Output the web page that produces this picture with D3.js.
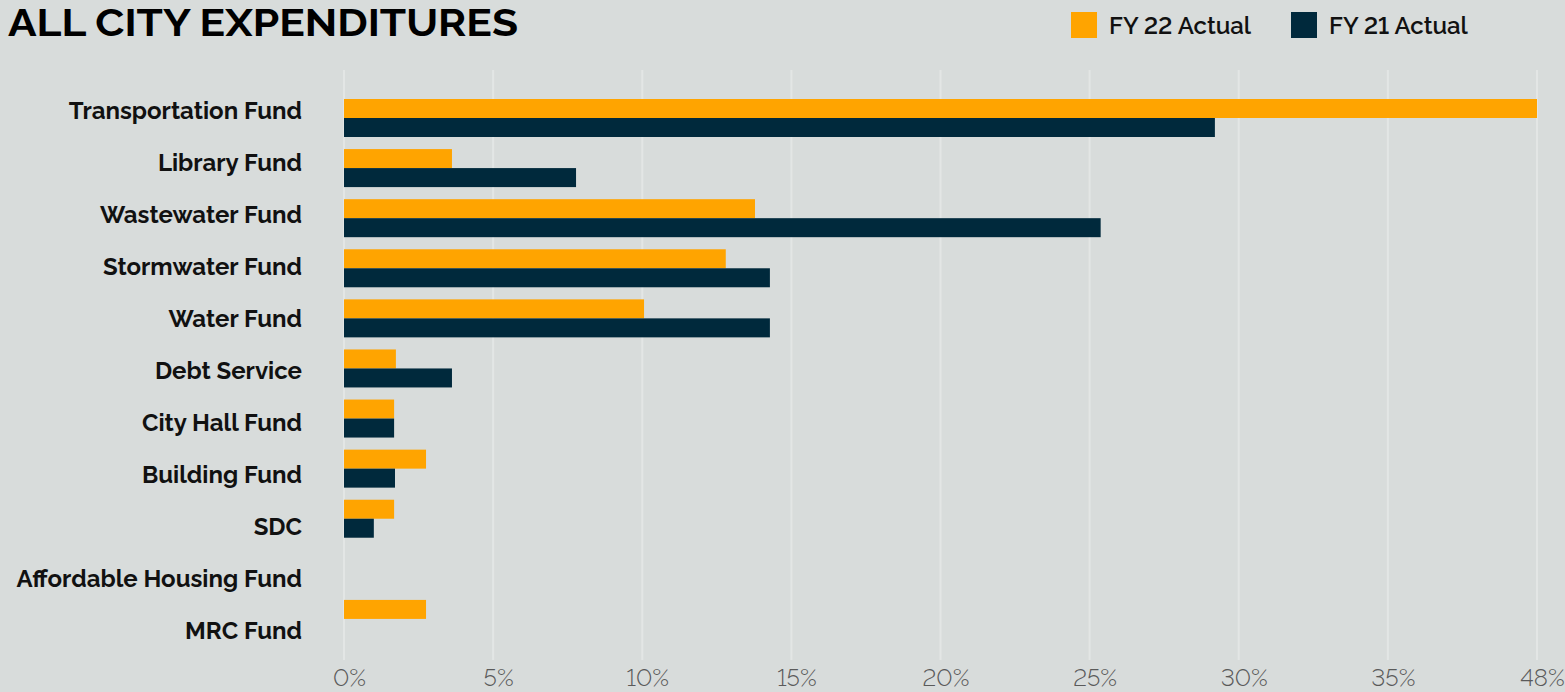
<!DOCTYPE html>
<html>
<head>
<meta charset="utf-8">
<script src="https://cdn.jsdelivr.net/npm/d3@7"></script>
<style>
  html, body { margin: 0; padding: 0; background: #D8DCDB; }
  svg { display: block; }
  text { font-variant-numeric: lining-nums; font-feature-settings: "lnum" 1; }
</style>
</head>
<body>
<svg id="chart" width="1565" height="692"></svg>
<script>
// Fund categories, top to bottom
const categories = [
  "Transportation Fund", "Library Fund", "Wastewater Fund", "Stormwater Fund",
  "Water Fund", "Debt Service", "City Hall Fund", "Building Fund", "SDC",
  "Affordable Housing Fund", "MRC Fund"
];
// Share of all city expenditures, percent
const fy22Actual = [40, 3.62, 13.78, 12.8, 10.06, 1.74, 1.68, 2.75, 1.68, 0, 2.75];
const fy21Actual = [29.2, 7.78, 25.37, 14.28, 14.28, 3.62, 1.68, 1.71, 1.0, 0, 0];
const seriesNames = ["FY 22 Actual", "FY 21 Actual"];
const tickValues = [0, 5, 10, 15, 20, 25, 30, 35, 40];
const tickLabels = ["0%", "5%", "10%", "15%", "20%", "25%", "30%", "35%", "48%"];

const colors = { "FY 22 Actual": "#FFA400", "FY 21 Actual": "#00293C" };
const font = "Raleway, Lato, 'Open Sans', sans-serif";

const svg = d3.select("#chart");

const x = d3.scaleLinear().domain([0, 40]).range([344, 1537]);
const yLabel = d3.scaleBand().domain(categories).range([85, 657]);
const yGroup = d3.scaleBand().domain(categories).range([99, 650]);
const ySeries = d3.scaleBand().domain(seriesNames).range([0, 38]);

// Vertical grid lines
svg.append("g")
  .selectAll("line")
  .data(tickValues)
  .join("line")
  .attr("x1", d => x(d)).attr("x2", d => x(d))
  .attr("y1", 70).attr("y2", 660)
  .attr("stroke", "#E3E6E5")
  .attr("stroke-width", 2);

// Bars
const rows = categories.map((c, i) => ({ c, vals: [fy22Actual[i], fy21Actual[i]] }));
const groups = svg.append("g").selectAll("g")
  .data(rows)
  .join("g")
  .attr("transform", d => `translate(0,${yGroup(d.c)})`);

groups.selectAll("rect")
  .data(d => d.vals.map((v, j) => ({ s: seriesNames[j], v })).filter(e => e.v > 0))
  .join("rect")
  .attr("x", x(0))
  .attr("y", d => ySeries(d.s))
  .attr("width", d => x(d.v) - x(0))
  .attr("height", ySeries.bandwidth())
  .attr("fill", d => colors[d.s]);

// Category axis labels
const yAxis = d3.axisLeft(yLabel).tickSize(0).tickPadding(0);
const yg = svg.append("g").attr("transform", "translate(302,0)").call(yAxis);
yg.select(".domain").remove();
yg.selectAll("text")
  .attr("font-family", font)
  .attr("font-weight", 700)
  .attr("font-size", 24)
  .attr("fill", "#111")
  .attr("dy", "0.35em");

// Percent axis
const xAxis = d3.axisBottom(x)
  .tickValues(tickValues)
  .tickFormat((d, i) => tickLabels[i])
  .tickSize(0).tickPadding(0);
const xg = svg.append("g").attr("transform", "translate(0,686)").call(xAxis);
xg.select(".domain").remove();
xg.selectAll("text")
  .attr("font-family", font)
  .attr("font-weight", 300)
  .attr("font-size", 24)
  .attr("fill", "#5a5a5a")
  .attr("dy", 0)
  .attr("dx", 5)
  .attr("y", 0);

// Title
svg.append("text")
  .attr("x", 8).attr("y", 36)
  .attr("font-family", font)
  .attr("font-weight", 700)
  .attr("font-size", 38)
  .attr("textLength", 510)
  .attr("lengthAdjust", "spacingAndGlyphs")
  .attr("fill", "#000")
  .text("ALL CITY EXPENDITURES");

// Legend
const legendX = d3.scalePoint().domain(seriesNames).range([1071, 1291]);
const lg = svg.append("g").selectAll("g")
  .data(seriesNames)
  .join("g")
  .attr("transform", d => `translate(${legendX(d)},12)`);
lg.append("rect")
  .attr("width", 26).attr("height", 26)
  .attr("fill", d => colors[d]);
lg.append("text")
  .attr("x", 38).attr("y", 22)
  .attr("font-family", font)
  .attr("font-weight", 600)
  .attr("font-size", 24)
  .attr("fill", "#111")
  .text(d => d);
</script>
</body>
</html>
